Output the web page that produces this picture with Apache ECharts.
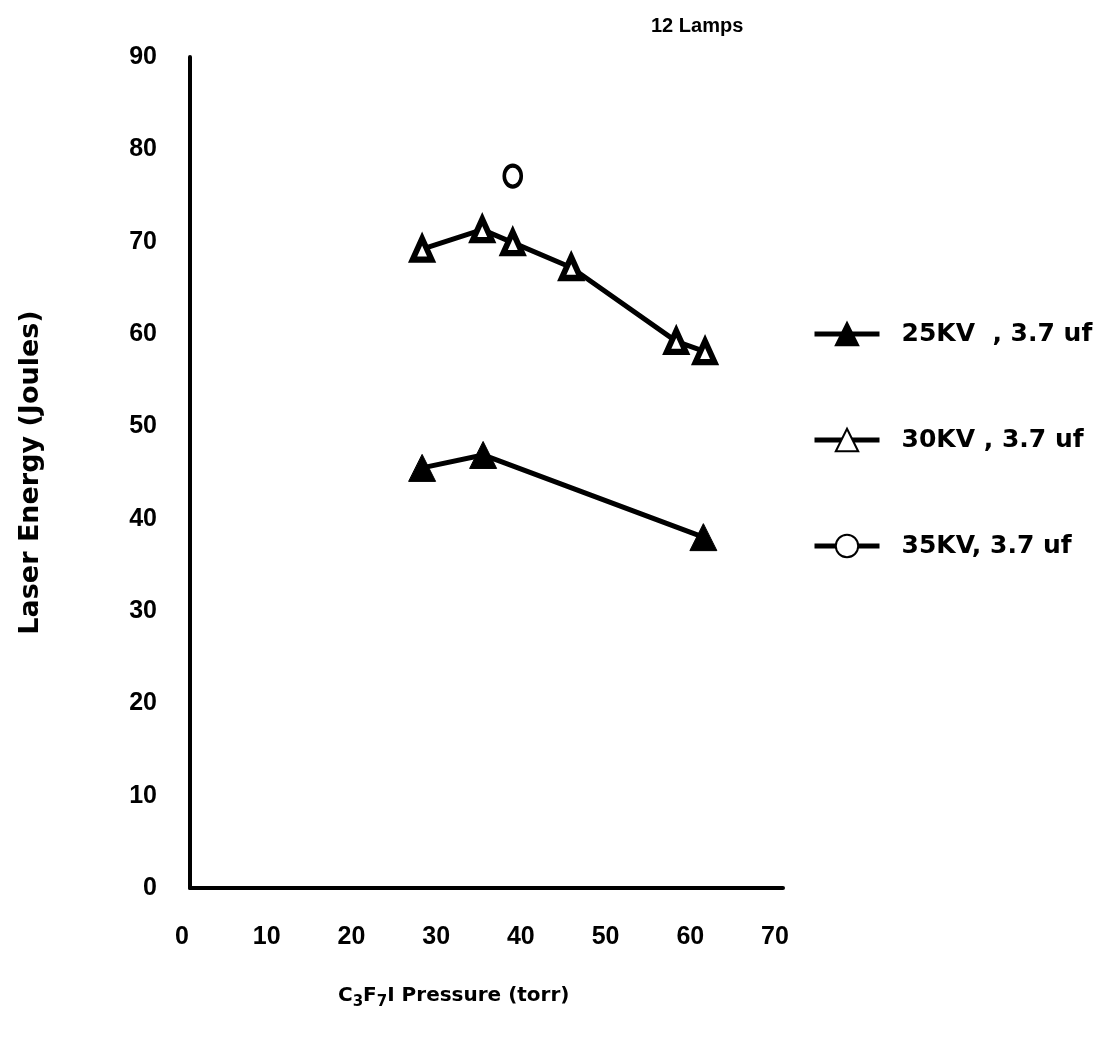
<!DOCTYPE html>
<html>
<head>
<meta charset="utf-8">
<script src="https://cdn.jsdelivr.net/npm/echarts@6/dist/echarts.min.js"></script>
<style>html,body{margin:0;padding:0;background:#fff;}#chart{width:1107px;height:1045px;}</style>
</head>
<body>
<div id="chart"></div>
<script>
// Data
const seriesNames = ['25KV  , 3.7 uf', '30KV , 3.7 uf', '35KV, 3.7 uf'];
const kv25Pressure = [27.4, 34.6, 60.6];
const kv25Energy = [45.5, 46.9, 38.0];
const kv30Pressure = [27.4, 34.5, 38.1, 45.0, 57.4, 60.8];
const kv30Energy = [69.2, 71.3, 69.9, 67.2, 59.2, 58.1];
const kv35Pressure = [38.1];
const kv35Energy = [77.1];
const xTicks = [0, 10, 20, 30, 40, 50, 60, 70];
const yTicks = [0, 10, 20, 30, 40, 50, 60, 70, 80, 90];

const zip = (a, b) => a.map((v, i) => [v, b[i]]);
const FONT = 'Liberation Sans, Arial, sans-serif';
const WIDE = 'DejaVu Sans, sans-serif';

const chart = echarts.init(document.getElementById('chart'));
chart.setOption({
  backgroundColor: '#fff',
  animation: false,
  title: {
    text: '12 Lamps', left: 646, top: 11,
    textStyle: { fontFamily: FONT, fontWeight: 'bold', fontSize: 20, color: '#000' }
  },
  grid: { left: 190, right: 324, top: 57, bottom: 157 },
  xAxis: {
    type: 'value', min: xTicks[0], max: xTicks[xTicks.length - 1], interval: 10,
    axisLine: { lineStyle: { color: '#000', width: 4 } },
    axisTick: { show: false }, splitLine: { show: false },
    axisLabel: { margin: 37, padding: [0, 16, 0, 0], fontFamily: FONT, fontWeight: 'bold', fontSize: 25, color: '#000' }
  },
  yAxis: {
    type: 'value', min: yTicks[0], max: yTicks[yTicks.length - 1], interval: 10,
    name: 'Laser Energy (Joules)', nameLocation: 'middle', nameGap: 146, nameRotate: 90,
    nameTextStyle: { fontFamily: WIDE, fontWeight: 'bold', fontSize: 27, color: '#000' },
    axisLine: { show: true, lineStyle: { color: '#000', width: 4 } },
    axisTick: { show: false }, splitLine: { show: false },
    axisLabel: { margin: 33, fontFamily: FONT, fontWeight: 'bold', fontSize: 25, color: '#000' }
  },
  legend: {
    orient: 'vertical', left: 807, top: 314, itemGap: 76,
    itemWidth: 65, itemHeight: 28,
    data: seriesNames,
    lineStyle: { width: 5 },
    textStyle: { fontFamily: WIDE, fontWeight: 'bold', fontSize: 25, lineHeight: 30, color: '#000', padding: [0, 0, 0, 17] }
  },
  graphic: [{
    type: 'text', left: 338, top: 986,
    style: {
      text: 'C{s|3}F{s|7}I Pressure (torr)',
      font: 'bold 20px ' + WIDE, fill: '#000',
      rich: { s: { fontSize: 15, fontWeight: 'bold', fontFamily: WIDE, verticalAlign: 'bottom', padding: [12, 0, 0, 0] } }
    }
  }],
  series: [
    {
      name: seriesNames[0], type: 'line', data: zip(kv25Pressure, kv25Energy),
      symbol: 'triangle', symbolSize: [27, 27],
      lineStyle: { color: '#000', width: 5 },
      itemStyle: { color: '#000', borderColor: '#000', borderWidth: 1 }
    },
    {
      name: seriesNames[1], type: 'line', data: zip(kv30Pressure, kv30Energy),
      symbol: 'triangle', symbolSize: [19, 21],
      lineStyle: { color: '#000', width: 5 },
      itemStyle: { color: '#fff', borderColor: '#000', borderWidth: 6 }
    },
    {
      name: seriesNames[2], type: 'line', data: zip(kv35Pressure, kv35Energy),
      symbol: 'circle', symbolSize: [17, 21],
      lineStyle: { color: '#000', width: 5 },
      itemStyle: { color: '#fff', borderColor: '#000', borderWidth: 4 }
    }
  ]
});
</script>
</body>
</html>
